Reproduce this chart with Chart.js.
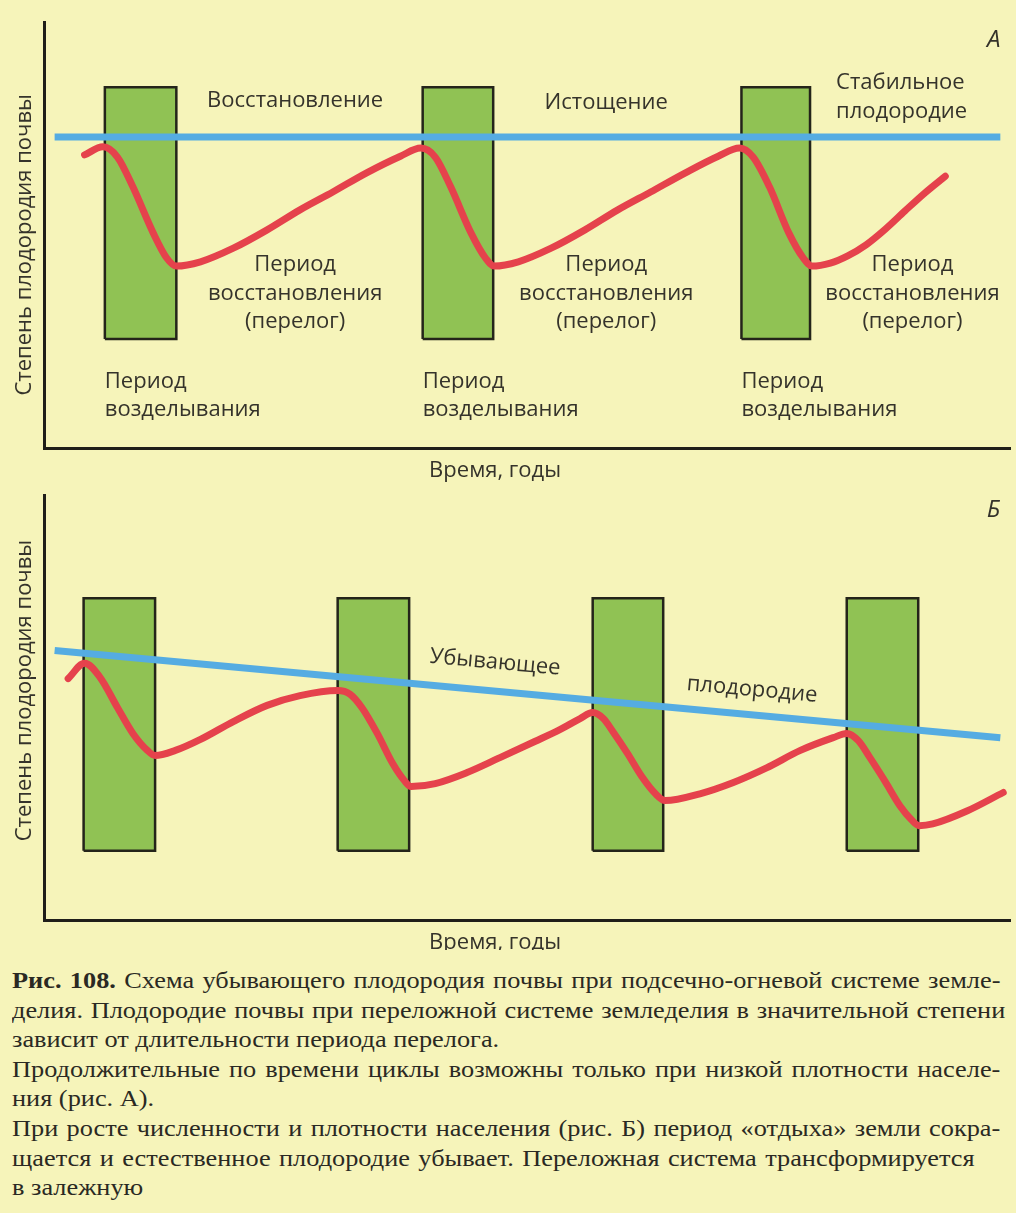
<!DOCTYPE html>
<html lang="ru">
<head>
<meta charset="utf-8">
<title>Схема убывающего плодородия почвы</title>
<script src="https://cdn.jsdelivr.net/npm/chart.js@4.4.1/dist/chart.umd.min.js"></script>
<style>
  body { margin: 0; background: #f6f4ba; width: 1016px; height: 1213px; position: relative; overflow: hidden; }
  .panel { position: absolute; left: 0; width: 1016px; }
  #panelA { top: 0; height: 490px; }
  #panelB { top: 490px; height: 460px; }
  .caption { position: absolute; left: 12px; top: 966px; font-family: "Liberation Serif", serif; font-size: 22.5px; line-height: 29.6px; color: #2a2923; }
  .caption div { white-space: nowrap; }
  .caption span { display: inline-block; transform: scaleX(1.17); transform-origin: 0 0; }
</style>
</head>
<body>
<div class="panel" id="panelA"><canvas id="chartA" width="1016" height="490"></canvas></div>
<div class="panel" id="panelB"><canvas id="chartB" width="1016" height="460"></canvas></div>

<div class="caption" id="caption">
  <div data-w="988"><span><b>Рис. 108.</b> Схема убывающего плодородия почвы при подсечно-огневой системе земле-</span></div>
  <div data-w="993"><span>делия. Плодородие почвы при переложной системе земледелия в значительной степени</span></div>
  <div><span>зависит от длительности периода перелога.</span></div>
  <div data-w="988"><span>Продолжительные по времени циклы возможны только при низкой плотности населе-</span></div>
  <div><span>ния (рис. А).</span></div>
  <div data-w="988"><span>При росте численности и плотности населения (рис. Б) период «отдыха» земли сокра-</span></div>
  <div data-w="963"><span>щается и естественное плодородие убывает. Переложная система трансформируется</span></div>
  <div><span>в залежную</span></div>
</div>

<script>
// ---- panel A: long fallow cycles (x = time, y = soil fertility, both 0..100)
const yearsA = [4.2, 6.1, 7.6, 9.2, 11.3, 12.7, 13.7, 16.2, 19.6, 23.1, 26.5, 29.9, 33.4, 36.9, 39.0,
                40.5, 42.1, 44.2, 45.7, 46.6, 49.1, 52.5, 56.0, 59.4, 62.8, 66.4, 69.8, 72.0,
                73.4, 75.1, 77.1, 78.6, 79.5, 81.4, 83.2, 85.1, 87.1, 89.1, 91.2, 93.3];
const fertilityA = [68.8, 70.7, 68.3, 61.3, 50.5, 44.6, 42.7, 43.7, 46.9, 51.2, 55.9, 60.1, 64.6, 68.5, 70.4,
                    68.3, 61.3, 50.5, 44.6, 42.7, 43.7, 46.9, 51.2, 55.9, 60.1, 64.6, 68.5, 70.4,
                    68.3, 61.3, 50.5, 44.6, 42.7, 43.4, 45.1, 47.7, 51.4, 55.6, 59.9, 63.8];
const levelYearsA = [1.1, 99.0];
const levelA = [73.0, 73.0];
const fieldStartA = [6.3, 39.2, 72.2];
const fieldEndA = [13.7, 46.5, 79.3];
const fieldTopA = 84.7;
const fieldBottomA = 25.6;

// ---- panel Б: short fallow cycles, declining fertility
const yearsB = [2.5, 4.2, 5.8, 7.6, 9.2, 10.7, 11.5, 13.6, 16.2, 19.6, 23.1, 26.5, 30.4,
                31.7, 32.9, 34.5, 36.1, 37.3, 38.0, 40.5, 43.8, 47.2, 50.8, 53.4, 55.5, 56.8,
                57.9, 58.9, 60.4, 61.9, 63.3, 64.3, 67.9, 71.3, 74.8, 78.3, 81.7, 83.1,
                84.3, 85.5, 87.1, 88.6, 89.8, 90.6, 92.0, 95.6, 99.3];
const fertilityB = [56.8, 60.4, 57.1, 50.0, 43.9, 39.9, 38.7, 39.9, 42.5, 46.7, 50.5, 52.8, 54.0,
                    53.1, 50.0, 43.9, 36.8, 32.8, 31.4, 32.1, 34.7, 38.2, 42.0, 44.8, 47.4, 48.8,
                    47.4, 44.3, 39.2, 33.7, 29.7, 28.1, 29.7, 32.3, 35.8, 39.9, 42.9, 43.9,
                    42.2, 38.2, 32.5, 26.9, 23.6, 22.2, 22.6, 25.7, 30.0];
const levelYearsB = [1.1, 99.0];
const levelB = [63.4, 42.9];
const fieldStartB = [4.1, 30.4, 56.8, 83.1];
const fieldEndB = [11.5, 37.8, 64.1, 90.5];
const fieldTopB = 75.7;
const fieldBottomB = 16.3;

const yTitle = 'Степень плодородия почвы';
const xTitle = 'Время, годы';

// text placed in data coordinates
const notesA = [
  { text: 'А', x: 99.0, y: 95.8, align: 'right', italic: true },
  { text: 'Восстановление', x: 26.0, y: 81.5 },
  { text: 'Истощение', x: 58.2, y: 81.0 },
  { text: 'Стабильное', x: 82.0, y: 85.7, align: 'left' },
  { text: 'плодородие', x: 82.0, y: 78.9, align: 'left' },
  { text: 'Период', x: 26.0, y: 43.0 },
  { text: 'восстановления', x: 26.0, y: 36.2 },
  { text: '(перелог)', x: 26.0, y: 29.6 },
  { text: 'Период', x: 58.2, y: 43.0 },
  { text: 'восстановления', x: 58.2, y: 36.2 },
  { text: '(перелог)', x: 58.2, y: 29.6 },
  { text: 'Период', x: 89.9, y: 43.0 },
  { text: 'восстановления', x: 89.9, y: 36.2 },
  { text: '(перелог)', x: 89.9, y: 29.6 },
  { text: 'Период', x: 6.3, y: 15.5, align: 'left' },
  { text: 'возделывания', x: 6.3, y: 8.9, align: 'left' },
  { text: 'Период', x: 39.2, y: 15.5, align: 'left' },
  { text: 'возделывания', x: 39.2, y: 8.9, align: 'left' },
  { text: 'Период', x: 72.2, y: 15.5, align: 'left' },
  { text: 'возделывания', x: 72.2, y: 8.9, align: 'left' }
];
const notesB = [
  { text: 'Б', x: 99.0, y: 96.5, align: 'right', italic: true },
  { text: 'Убывающее', x: 46.7, y: 60.6, slope: true },
  { text: 'плодородие', x: 73.3, y: 54.2, slope: true }
];

const RED = '#e5424c';
const BLUE = '#55ace2';
const GREEN = '#90c254';
const INK = '#35332b';
const FONT = '"Open Sans", "DejaVu Sans", sans-serif';

const notesPlugin = {
  id: 'notes',
  afterDatasetsDraw(chart, args, opts) {
    const { ctx, chartArea } = chart;
    const xs = chart.scales.x, ys = chart.scales.y;
    ctx.save();
    ctx.fillStyle = INK;
    ctx.textBaseline = 'middle';
    // slope of the fertility level line, for text lying along it
    const lv = chart.data.datasets[1].data;
    const ang = Math.atan2(ys.getPixelForValue(lv[1].y) - ys.getPixelForValue(lv[0].y),
                           xs.getPixelForValue(lv[1].x) - xs.getPixelForValue(lv[0].x));
    opts.notes.forEach(n => {
      ctx.font = n.italic ? 'italic 24px ' + FONT : '22px ' + FONT;
      ctx.textAlign = n.align || 'center';
      ctx.save();
      ctx.translate(xs.getPixelForValue(n.x), ys.getPixelForValue(n.y));
      if (n.slope) ctx.rotate(ang);
      ctx.fillText(n.text, 0, 0);
      ctx.restore();
    });
    // axis titles
    ctx.font = '22px ' + FONT;
    ctx.textAlign = 'center';
    ctx.fillText(xTitle, xs.getPixelForValue(46.7), chartArea.bottom + 23);
    ctx.save();
    ctx.translate(chartArea.left - 19, ys.getPixelForValue(opts.yTitleAt));
    ctx.rotate(-Math.PI / 2);
    ctx.fillText(yTitle, 0, 0);
    ctx.restore();
    ctx.restore();
  }
};

function pts(xs, ys) { return xs.map((x, i) => ({ x: x, y: ys[i] })); }

function makePanel(id, p) {
  const datasets = [
    { data: pts(p.years, p.fertility), borderColor: RED, borderWidth: 7,
      cubicInterpolationMode: 'monotone', borderCapStyle: 'round', borderJoinStyle: 'round' },
    { data: pts(p.levelYears, p.level), borderColor: BLUE, borderWidth: 7, tension: 0 }
  ];
  p.fieldStart.forEach((s, i) => {
    const e = p.fieldEnd[i];
    datasets.push({
      data: pts([s, s, e, e, s], [p.bottom, p.top, p.top, p.bottom, p.bottom]),
      borderColor: '#24241a', borderWidth: 2.5, backgroundColor: GREEN,
      fill: 'shape', tension: 0, borderJoinStyle: 'miter'
    });
  });
  const axis = {
    type: 'linear', min: 0, max: 100,
    grid: { display: false, drawTicks: false },
    ticks: { display: false },
    border: { display: true, color: '#1f1e19', width: 3 }
  };
  new Chart(document.getElementById(id), {
    type: 'line',
    data: { datasets: datasets },
    options: {
      responsive: false,
      animation: false,
      events: [],
      elements: { point: { radius: 0 } },
      layout: { padding: p.padding },
      scales: {
        x: Object.assign({}, axis, { afterFit(s) { s.height = 0; } }),
        y: Object.assign({}, axis, { afterFit(s) { s.width = 0; } })
      },
      plugins: {
        legend: { display: false },
        tooltip: { enabled: false },
        notes: { notes: p.notes, yTitleAt: p.yTitleAt }
      }
    },
    plugins: [notesPlugin]
  });
}

makePanel('chartA', {
  years: yearsA, fertility: fertilityA, levelYears: levelYearsA, level: levelA,
  fieldStart: fieldStartA, fieldEnd: fieldEndA, top: fieldTopA, bottom: fieldBottomA,
  notes: notesA, yTitleAt: 47.7,
  padding: { left: 44, right: 6, top: 22, bottom: 42 }
});
makePanel('chartB', {
  years: yearsB, fertility: fertilityB, levelYears: levelYearsB, level: levelB,
  fieldStart: fieldStartB, fieldEnd: fieldEndB, top: fieldTopB, bottom: fieldBottomB,
  notes: notesB, yTitleAt: 54.0,
  padding: { left: 44, right: 6, top: 5, bottom: 30 }
});

// justify the full caption lines by stretching word spacing (span is scaled horizontally)
const SCALE_X = 1.17;
document.querySelectorAll('#caption div[data-w]').forEach(div => {
  const span = div.querySelector('span');
  const spaces = (span.textContent.match(/ /g) || []).length;
  const extra = +div.dataset.w / SCALE_X - span.offsetWidth;
  if (spaces) span.style.wordSpacing = (extra / spaces) + 'px';
});
</script>
</body>
</html>
